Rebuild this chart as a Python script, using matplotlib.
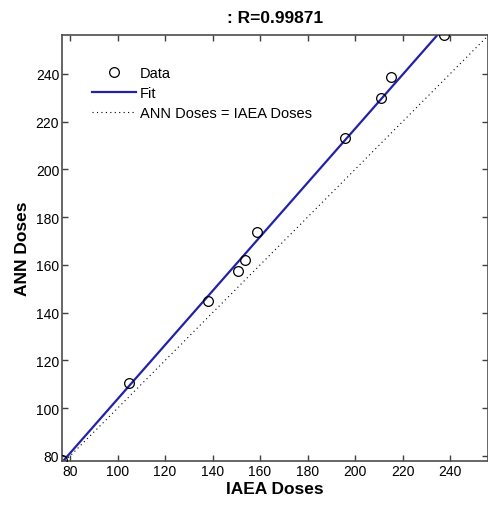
import numpy as np
import matplotlib
matplotlib.use("Agg")
import matplotlib.pyplot as plt

plt.rcParams['font.family'] = ['Liberation Sans', 'DejaVu Sans']

# IAEA (target) doses vs ANN (predicted) doses
iaea_doses = [76.4, 104.9, 138.1, 150.9, 153.8, 158.7, 195.9, 211.0, 215.0, 237.6]
ann_doses = [78.3, 110.6, 144.9, 157.4, 162.2, 173.7, 213.1, 229.8, 238.9, 256.5]
r_value = 0.99871

x_ticks = [80, 100, 120, 140, 160, 180, 200, 220, 240]
y_ticks = [80, 100, 120, 140, 160, 180, 200, 220, 240]
x_limits = (76.6, 255.8)
y_limits = (77.9, 256.3)

x = np.array(iaea_doses)
y = np.array(ann_doses)
slope, intercept = np.polyfit(x, y, 1)
xx = np.linspace(x_limits[0], x_limits[1], 200)

fig = plt.figure(figsize=(4.88, 5.06), dpi=100)
ax = fig.add_axes([62 / 488, 1 - 462 / 506, 426 / 488 - 0.001, 426 / 506])

ax.plot(x, y, 'o', markersize=7, markerfacecolor='none', markeredgecolor='black',
        markeredgewidth=0.9, label='Data', zorder=3)
ax.plot(xx, slope * xx + intercept, color='#2222a8', linewidth=1.6, label='Fit')
ax.plot(xx, xx, color='black', linestyle=(0, (1, 3)), linewidth=0.8,
        label='ANN Doses = IAEA Doses')

ax.set_xlim(*x_limits)
ax.set_ylim(*y_limits)
ax.set_xticks(x_ticks)
ax.set_yticks(y_ticks)
ax.tick_params(direction='in', length=4, top=True, right=True, labelsize=10,
               color='#404040', width=1, pad=2)
for s in ax.spines.values():
    s.set_color('#4d4d4d')
    s.set_linewidth(1.2)

ax.set_xlabel('IAEA Doses', fontsize=12.5, fontweight='bold', labelpad=2)
ax.set_ylabel('ANN Doses', fontsize=12.5, fontweight='bold', labelpad=4)
ax.set_title(f': R={r_value}', fontsize=12.5, fontweight='bold', pad=9)

ax.legend(loc='upper left', bbox_to_anchor=(0.07, 0.928), frameon=False,
          fontsize=10.5, borderpad=0, borderaxespad=0, handlelength=3.0,
          handletextpad=0.3, labelspacing=0.42)

fig.savefig('out.png', dpi=100)
